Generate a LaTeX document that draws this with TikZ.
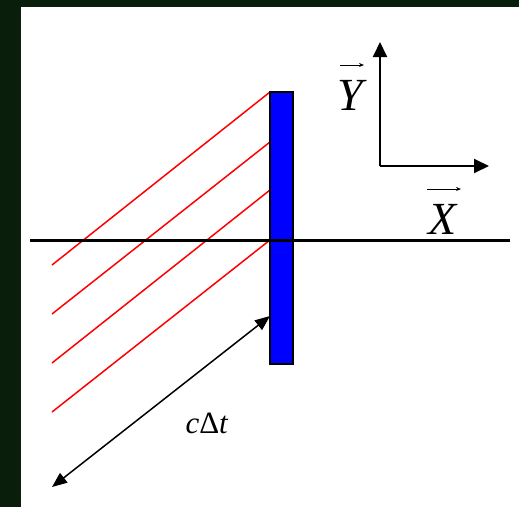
\documentclass[tikz,border=0pt]{standalone}
\usepackage{fontspec}
\setmainfont{Liberation Serif}
\usetikzlibrary{arrows.meta,calc}
\definecolor{bgdark}{RGB}{10,30,12}
\definecolor{mirrorblue}{RGB}{0,0,255}
\definecolor{rayred}{RGB}{255,0,0}
\tikzset{
  ray/.style={draw=rayred, line width=1.5pt},
  axisarrow/.style={-{Triangle[length=15pt,width=14pt]}, line width=2pt},
  distarrow/.style={{Triangle[length=15pt,width=12pt]}-{Triangle[length=15pt,width=12pt]}, line width=1.5pt},
  vecarrow/.style={-{Stealth[length=5pt,width=4pt]}, line width=0.8pt},
  biglbl/.style={font=\fontsize{46}{46}\selectfont\itshape, inner sep=0pt, anchor=base},
  midlbl/.style={font=\fontsize{31}{31}\selectfont, inner sep=0pt, anchor=base},
}
\begin{document}
\begin{tikzpicture}[x=1pt,y=-1pt]
\useasboundingbox (0,0) rectangle (519,507);
\fill[bgdark] (0,0) rectangle (519,507);
\fill[white] (21,7) rectangle (519,507);
% ray coordinates
\coordinate (r1s) at (52,265); \coordinate (r1e) at (270,92);
\coordinate (r2s) at (52,314); \coordinate (r2e) at (270,142);
\coordinate (r3s) at (52,363); \coordinate (r3e) at (270,190);
\coordinate (r4s) at (52,412); \coordinate (r4e) at (270,240);
\draw[ray] (r1s) -- (r1e);
\draw[ray] (r2s) -- (r2e);
\draw[ray] (r3s) -- (r3e);
\draw[ray] (r4s) -- (r4e);
% mirror
\node[draw=black, line width=2pt, fill=mirrorblue, minimum width=23pt, minimum height=272pt, inner sep=0pt] (mirror) at (281.5,228) {};
% horizontal axis line
\coordinate (hl) at (30,240); \coordinate (hr) at (510,240);
\draw[line width=3pt] (hl) -- (hr);
% distance arrow
\coordinate (da) at (270,316); \coordinate (db) at (52,487);
\draw[distarrow] (db) -- (da);
\node[midlbl] (cdt) at (207,433) {\textit{c}Δ\textit{t}};
% axes
\coordinate (o) at (380,166); \coordinate (yt) at (380,42); \coordinate (xt) at (489,166);
\draw[axisarrow] (o) -- (yt);
\draw[axisarrow] (o) -- (xt);
% labels
\node[biglbl] (Ylab) at (350,110) {Y};
\coordinate (yv1) at (340,65); \coordinate (yv2) at (364,65);
\draw[vecarrow] (yv1) -- (yv2);
\node[biglbl] (Xlab) at (443,234) {X};
\coordinate (xv1) at (427,189); \coordinate (xv2) at (461,189);
\draw[vecarrow] (xv1) -- (xv2);
\end{tikzpicture}
\end{document}
